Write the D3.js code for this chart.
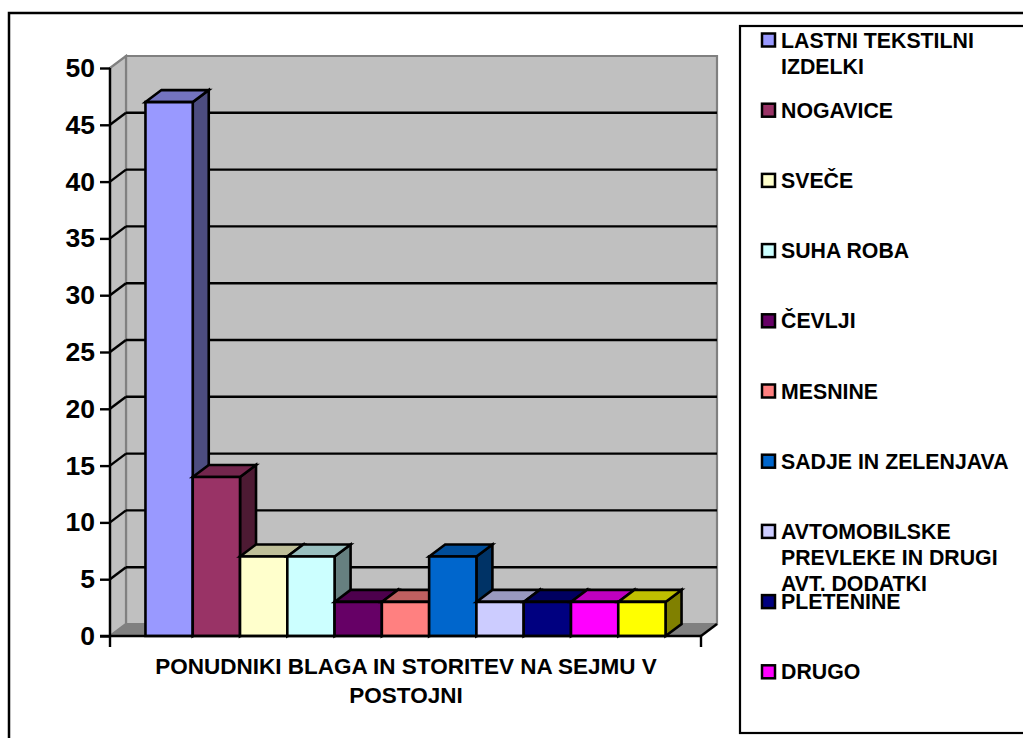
<!DOCTYPE html>
<html><head><meta charset="utf-8">
<script src="https://cdn.jsdelivr.net/npm/d3@7"></script>
<style>html,body{margin:0;padding:0;background:#fff;overflow:hidden}svg{display:block}text{font-family:"Liberation Sans",Arial,sans-serif;font-weight:bold;fill:#000}</style>
</head><body><svg id="c" width="1023" height="738"></svg>
<script>
const categories=["LASTNI TEKSTILNI IZDELKI","NOGAVICE","SVEČE","SUHA ROBA","ČEVLJI","MESNINE","SADJE IN ZELENJAVA","AVTOMOBILSKE PREVLEKE IN DRUGI AVT. DODATKI","PLETENINE","DRUGO","OSTALO"];
const values=[47,14,7,7,3,3,7,3,3,3,3];
const colors=["#9999FF","#993366","#FFFFCC","#CCFFFF","#660066","#FF8080","#0066CC","#CCCCFF","#000080","#FF00FF","#FFFF00"];
const legendLines=[["LASTNI TEKSTILNI","IZDELKI"],["NOGAVICE"],["SVEČE"],["SUHA ROBA"],["ČEVLJI"],["MESNINE"],["SADJE IN ZELENJAVA"],["AVTOMOBILSKE","PREVLEKE IN DRUGI","AVT. DODATKI"],["PLETENINE"],["DRUGO"]];
const yTicks=[0,5,10,15,20,25,30,35,40,45,50];
const axisTitle=["PONUDNIKI BLAGA IN STORITEV NA SEJMU V","POSTOJNI"];

const svg=d3.select("#c");
const dx=16,dy=12;
const y=d3.scaleLinear().domain([0,50]).range([636,68]);
const x=d3.scaleBand().domain(categories).range([110,701]).paddingInner(0).paddingOuter(0.75);
const poly=(pts,fill,stroke,w)=>svg.append("polygon").attr("points",pts.map(p=>p.join(",")).join(" ")).attr("fill",fill).attr("stroke",stroke||"none").attr("stroke-width",w||0).attr("stroke-linejoin","miter");
const ln=(a,b,c,d,col,w)=>svg.append("line").attr("x1",a).attr("y1",b).attr("x2",c).attr("y2",d).attr("stroke",col).attr("stroke-width",w||2.4);

// frames
svg.append("rect").attr("x",9).attr("y",13).attr("width",1100).attr("height",800).attr("fill","#fff").attr("stroke","#000").attr("stroke-width",2.5);
svg.append("rect").attr("x",740).attr("y",26).attr("width",400).attr("height",707).attr("fill","#fff").attr("stroke","#000").attr("stroke-width",2.2);

const [xL,xR]=x.range();
// walls
poly([[xL+dx,y(50)-dy],[xR+dx,y(50)-dy],[xR+dx,y(0)-dy],[xL+dx,y(0)-dy]],"#C0C0C0","#808080",2.2);
poly([[xL,y(50)],[xL+dx,y(50)-dy],[xL+dx,y(0)-dy],[xL,y(0)]],"#C0C0C0","#808080",2.2);
poly([[xL,y(0)],[xL+dx,y(0)-dy],[xR+dx,y(0)-dy],[xR,y(0)]],"#808080","#808080",1);
// gridlines
yTicks.filter(t=>t>0&&t<50).forEach(t=>{
  ln(xL,y(t),xL+dx,y(t)-dy,"#000");
  ln(xL+dx,y(t)-dy,xR+dx,y(t)-dy,"#000");
});
ln(xR,y(0),xR+dx,y(0)-dy,"#000");

// bars
const shade=(c,k)=>{const r=d3.rgb(c);return d3.rgb(r.r*k,r.g*k,r.b*k).formatHex();};
categories.forEach((c,i)=>{
  const l=x(c),r=l+x.bandwidth(),t=y(values[i]),b=y(0);
  poly([[r,b],[r+dx,b-dy],[r+dx,t-dy],[r,t]],shade(colors[i],0.5),"#000",2.6);
  poly([[l,t],[l+dx,t-dy],[r+dx,t-dy],[r,t]],shade(colors[i],0.75),"#000",2.6);
  poly([[l,t],[r,t],[r,b],[l,b]],colors[i],"#000",2.6);
});

// axes
const yAxis=d3.axisLeft(y).tickValues(yTicks).tickSize(10).tickPadding(5);
const gy=svg.append("g").attr("transform",`translate(${xL},0)`).call(yAxis);
gy.select(".domain").attr("stroke","#000").attr("stroke-width",2.4).attr("d",`M0,${y(50)}V${y(0)+11}`);
gy.selectAll(".tick line").attr("stroke","#000").attr("stroke-width",2.4);
gy.selectAll("text").style("font-family",'"Liberation Sans",Arial,sans-serif').style("font-weight","bold").style("font-size","26.5px").attr("fill","#000");
ln(xL-10,y(0),xR,y(0),"#000",2.6);
ln(xR,y(0),xR,y(0)+11,"#000");

// axis title
axisTitle.forEach((s,i)=>svg.append("text").attr("x",406).attr("y",674+i*29).attr("text-anchor","middle").attr("font-size",22.5).text(s));

// legend
legendLines.forEach((lines,i)=>{
  const cy=40.5+i*70.2;
  svg.append("rect").attr("x",762).attr("y",cy-7).attr("width",13).attr("height",13).attr("fill",colors[i]).attr("stroke","#000").attr("stroke-width",2.5);
  lines.forEach((s,j)=>svg.append("text").attr("x",781).attr("y",cy+7+j*26).attr("font-size",21.3).text(s));
});
</script></body></html>
